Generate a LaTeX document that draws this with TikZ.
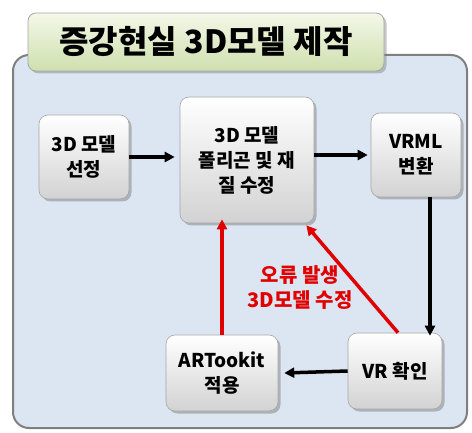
\documentclass[tikz,border=0pt]{standalone}
\usepackage{fontspec}
\setmainfont{Noto Sans CJK KR}
\usetikzlibrary{shadows,arrows.meta}
\definecolor{bgblue}{HTML}{DCE6F2}
\definecolor{frame}{HTML}{7F7F7F}
\definecolor{titletop}{HTML}{F3F8E8}
\definecolor{titlebot}{HTML}{CFDFAE}
\definecolor{errred}{HTML}{E00000}
\tikzset{
  stepbox/.style={draw=gray!70, line width=0.6pt, rounded corners=9pt,
    top color=white, bottom color=gray!35, align=center, inner sep=2pt,
    font=\fontsize{19}{25}\selectfont\bfseries,
    drop shadow={shadow xshift=2.5pt, shadow yshift=-2.5pt, opacity=0.5}},
  blk/.style={-{Triangle[length=10pt,width=10pt]}, line width=3.5pt, black},
  redarr/.style={-{Triangle[length=10pt,width=10pt]}, line width=3.5pt, errred}
}
\begin{document}
\begin{tikzpicture}[x=1pt,y=-1pt]
\useasboundingbox (0,0) rectangle (472,433);
% outer panel
\draw[draw=frame, line width=2pt, fill=bgblue, rounded corners=16pt] (13,55) rectangle (467,428);
% title
\node[draw=gray!70, line width=0.8pt, rounded corners=8pt, top color=titletop, bottom color=titlebot,
  minimum width=356pt, minimum height=58pt, font=\fontsize{32}{36}\selectfont\bfseries,
  drop shadow={shadow xshift=2.5pt, shadow yshift=-2.5pt, opacity=0.45}]
  (title) at (206,42) {증강현실 3D모델 제작};
% nodes
\node[stepbox, minimum width=90pt, minimum height=84pt] (sel) at (84,157) {3D 모델\\선정};
\node[stepbox, minimum width=134pt, minimum height=126pt] (poly) at (247,160) {3D 모델\\폴리곤 및 재\\질 수정};
\node[stepbox, minimum width=90pt, minimum height=84pt] (vrml) at (416,155) {VRML\\변환};
\node[stepbox, minimum width=112pt, minimum height=76pt] (art) at (222,373) {ARTookit\\적용};
\node[stepbox, minimum width=94pt, minimum height=76pt] (vr) at (395,371) {VR 확인};
% black arrows
\draw[blk] (sel.east) -- ([xshift=-5pt]poly.west |- sel.east);
\draw[blk] (poly.east |- vrml.west) -- ([xshift=-3pt]vrml.west);
\draw[blk] ([xshift=14pt]vrml.south) -- ([xshift=35pt,yshift=-3pt]vr.north);
\draw[blk] (vr.west) -- ([xshift=6pt]art.east);
% red arrows
\draw[redarr] (art.north) -- ([yshift=4pt]art.north |- poly.south);
\draw[redarr] ([xshift=3pt]vr.north) -- ([xshift=-8pt,yshift=-2pt]poly.south east);
\node[errred, align=center, font=\fontsize{20}{25}\selectfont\bfseries] (lbl) at (300,288) {오류 발생\\3D모델 수정};
\end{tikzpicture}
\end{document}
